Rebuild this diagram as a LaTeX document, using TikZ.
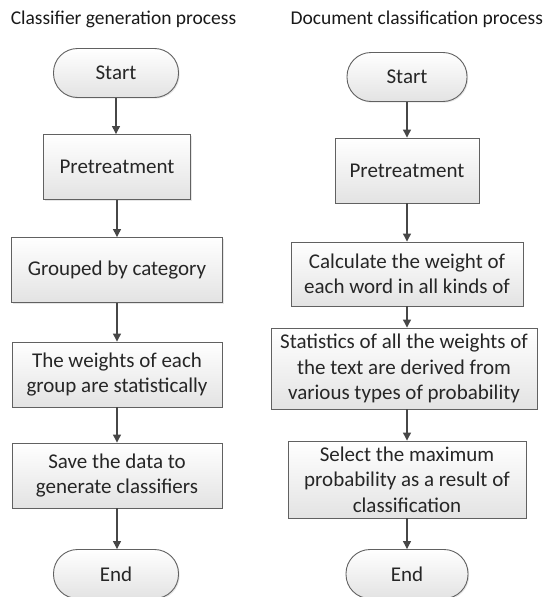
\documentclass[tikz,border=0pt]{standalone}
\usepackage{fontspec}
\setmainfont{Carlito}
\usepackage{tikz}
\usetikzlibrary{positioning, arrows.meta, shadows}

\begin{document}
\begin{tikzpicture}[x=1pt, y=-1pt,
		caja/.style={rectangle, draw=black!62, line width=0.9pt, top color=white, bottom color=black!11,
			drop shadow={opacity=0.2, shadow xshift=1.2pt, shadow yshift=-1.2pt},
			align=center, text=black!85, font=\fontsize{21}{25.5}\selectfont, inner sep=2pt},
		terminal/.style={caja, rounded corners=24pt, minimum width=122, minimum height=49},
		proceso/.style={caja, minimum height=65},
		flecha/.style={draw=black!72, line width=1.2pt, -{Triangle[length=8pt, width=8pt]}},
		titulo/.style={font=\fontsize{19.5}{23}\selectfont, text=black!90}]
	
	\useasboundingbox (0,0) rectangle (543,597);
	
	% Titulos
	\node[titulo] (TitleA) at (123.5,19) {Classifier generation process};
	\node[titulo, anchor=west] (TitleB) at (287,19) {Document classification process};
	
	% Proceso de generacion del clasificador
	\node[terminal, minimum width=125] (StartA) at (116,73) {Start};
	\node[proceso, minimum width=147] (PretreatA) at (117,167) {Pretreatment};
	\node[proceso, minimum width=211] (GroupA) at (117,270) {Grouped by category};
	\node[proceso, minimum width=210] (WeightA) at (117,374.5) {The weights of each\\group are statistically};
	\node[proceso, minimum width=210] (SaveA) at (117,475.5) {Save the data to\\generate classifiers};
	\node[terminal, minimum width=125] (EndA) at (116,574) {End};
	
	% Proceso de clasificacion de documentos
	\node[terminal, minimum width=120] (StartB) at (407,77) {Start};
	\node[proceso, minimum width=144] (PretreatB) at (407,170.5) {Pretreatment};
	\node[proceso, minimum width=232, minimum height=64] (CalcB) at (407,274) {Calculate the weight of\\each word in all kinds of};
	\node[proceso, minimum width=266, minimum height=81] (StatB) at (404,368.5) {Statistics of all the weights of\\the text are derived from\\various types of probability};
	\node[proceso, minimum width=238, minimum height=77] (SelectB) at (407,479.5) {Select the maximum\\probability as a result of\\classification};
	\node[terminal, minimum width=122] (EndB) at (407,574) {End};
	
	% Conexiones
	\foreach \a/\b in {StartA/PretreatA, PretreatA/GroupA, GroupA/WeightA, WeightA/SaveA, SaveA/EndA}{
		\draw[flecha] (\a.south) -- (\a.south |- \b.north);
	}
	\foreach \a/\b in {StartB/PretreatB, PretreatB/CalcB, CalcB/StatB, StatB/SelectB, SelectB/EndB}{
		\draw[flecha] (\a.south -| StartB) -- (\b.north -| StartB);
	}
	
\end{tikzpicture}
\end{document}
